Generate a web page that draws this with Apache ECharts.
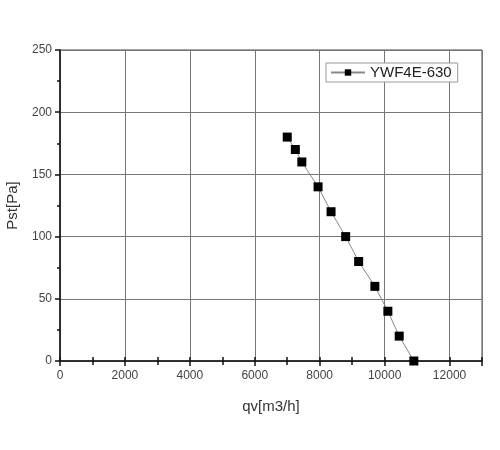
<!DOCTYPE html>
<html>
<head>
<meta charset="utf-8">
<script src="https://cdn.jsdelivr.net/npm/echarts@6/dist/echarts.min.js"></script>
<style>
html,body{margin:0;padding:0;background:#fff;}
#c{width:500px;height:450px;}
</style>
</head>
<body>
<div id="c"></div>
<script>
var seriesName = 'YWF4E-630';
var qv = [7000, 7250, 7450, 7950, 8350, 8800, 9200, 9700, 10100, 10450, 10900];
var pst = [180, 170, 160, 140, 120, 100, 80, 60, 40, 20, 0];
var xTicks = [0, 2000, 4000, 6000, 8000, 10000, 12000];
var yTicks = [0, 50, 100, 150, 200, 250];

var data = qv.map(function (v, i) { return [v, pst[i]]; });
var font = 'Liberation Sans, Arial, sans-serif';

var chart = echarts.init(document.getElementById('c'));
chart.setOption({
  animation: false,
  backgroundColor: '#fff',
  grid: {left: 60, right: 18, top: 50, bottom: 89, show: true, borderColor: '#444', borderWidth: 1,
    containLabel: false, outerBoundsMode: 'none'},
  legend: {
    left: 326, top: 63,
    data: [seriesName],
    backgroundColor: '#fff',
    borderColor: '#999', borderWidth: 1,
    padding: [2, 6, 2, 4],
    itemWidth: 34, itemHeight: 8,
    textStyle: {fontFamily: font, fontSize: 15, color: '#222'}
  },
  xAxis: [{
    type: 'value', min: 0, max: 13000, interval: 2000,
    name: 'qv[m3/h]', nameLocation: 'middle', nameGap: 38,
    nameTextStyle: {fontFamily: font, fontSize: 15, color: '#333'},
    axisLine: {lineStyle: {color: '#111', width: 1.5}},
    axisTick: {show: true, length: 5, lineStyle: {color: '#111', width: 1.5}},
    minorTick: {show: true, splitNumber: 2, length: 4, lineStyle: {color: '#111', width: 1.5}},
    axisLabel: {fontFamily: font, fontSize: 12, color: '#444', margin: 9,
      formatter: function (v) { return xTicks.indexOf(v) >= 0 ? String(v) : ''; }},
    splitLine: {show: true, lineStyle: {color: '#777', width: 1}}
  }, {
    type: 'value', min: 0, max: 13000, interval: 2000, position: 'bottom',
    axisLine: {show: false}, axisLabel: {show: false}, splitLine: {show: false},
    axisTick: {show: true, inside: true, length: 4, lineStyle: {color: '#111', width: 1.5}},
    minorTick: {show: true, splitNumber: 2, length: 4, lineStyle: {color: '#111', width: 1.5}}
  }],
  yAxis: [{
    type: 'value', min: 0, max: 250, interval: 50,
    name: 'Pst[Pa]', nameLocation: 'middle', nameGap: 40,
    nameTextStyle: {fontFamily: font, fontSize: 15, color: '#333'},
    axisLine: {show: true, lineStyle: {color: '#111', width: 1.5}},
    axisTick: {show: true, length: 5, lineStyle: {color: '#111', width: 1.5}},
    minorTick: {show: true, splitNumber: 2, length: 3, lineStyle: {color: '#111', width: 1.5}},
    axisLabel: {fontFamily: font, fontSize: 12, color: '#444', margin: 8,
      formatter: function (v) { return yTicks.indexOf(v) >= 0 ? String(v) : ''; }},
    splitLine: {show: true, lineStyle: {color: '#777', width: 1}}
  }, {
    type: 'value', min: 0, max: 250, interval: 50, position: 'left',
    axisLine: {show: false}, axisLabel: {show: false}, splitLine: {show: false},
    axisTick: {show: false},
    minorTick: {show: true, splitNumber: 2, length: 3, lineStyle: {color: '#111', width: 1.5}}
  }],
  series: [{
    name: seriesName, type: 'line', data: data,
    xAxisIndex: 0, yAxisIndex: 0,
    symbol: 'rect', symbolSize: 9,
    itemStyle: {color: '#000'},
    lineStyle: {color: '#888', width: 1}
  }]
});
</script>
</body>
</html>
